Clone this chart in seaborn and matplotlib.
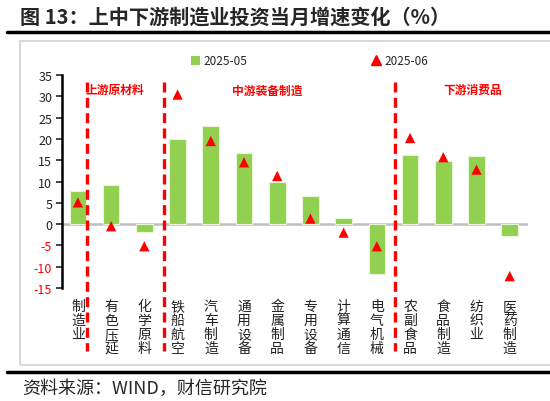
import matplotlib
matplotlib.use("Agg")
import matplotlib.pyplot as plt
import seaborn as sns
import pandas as pd
from matplotlib.lines import Line2D
from matplotlib.patches import Patch, Rectangle

categories = ["制造业", "有色压延", "化学原料", "铁船航空", "汽车制造", "通用设备", "金属制品",
              "专用设备", "计算通信", "电气机械", "农副食品", "食品制造", "纺织业", "医药制造"]
may_2025 = [7.8, 9.2, -1.9, 19.9, 23.0, 16.7, 9.9, 6.6, 1.5, -11.7, 16.3, 14.9, 15.9, -2.9]
jun_2025 = [5.1, -0.5, -5.2, 30.4, 19.5, 14.5, 11.3, 1.3, -2.0, -5.2, 20.2, 15.7, 12.8, -12.2]
section_names = ["上游原材料", "中游装备制造", "下游消费品"]

GREEN = "#92d050"
RED = "#ff0000"

sns.set_style("white")
plt.rcParams["font.family"] = ["Noto Sans CJK SC", "DejaVu Sans"]
plt.rcParams["axes.unicode_minus"] = False

df = pd.DataFrame({"cat": categories, "may": may_2025, "jun": jun_2025})

fig = plt.figure(figsize=(5.5, 4.02), dpi=100)
ax = fig.add_axes([0.1127, 0.281, 0.8473, 0.530])

sns.barplot(data=df, x="cat", y="may", color=GREEN, width=0.5, saturation=1,
            edgecolor="#e8f5d8", linewidth=0.8, ax=ax, zorder=2)
sns.scatterplot(data=df, x="cat", y="jun", marker="^", color=RED, s=55,
                edgecolor="none", ax=ax, zorder=4)

ax.set_ylim(-15, 35)
ax.set_xlim(-0.48, 13.55)
ax.set_yticks(range(-15, 40, 5))
ax.axhline(0, color="#bfbfbf", lw=1.8, zorder=1)

# section dividers and names
for xd in [0.27, 2.59, 9.54]:
    ax.plot([xd, xd], [33.3, -29.8], color=RED, lw=2.4, ls=(0, (3, 1.6)),
            clip_on=False, zorder=5)
for xs, name in zip([1.12, 5.7, 11.88], section_names):
    ax.text(xs, 31.5, name, color=RED, fontsize=8.5, fontweight="bold",
            ha="center", va="center")

ax.set_xlabel("")
ax.set_ylabel("")
ax.set_xticks(range(len(categories)))
ax.set_xticklabels(["\n".join(c) for c in categories], fontsize=10,
                   linespacing=1.0, va="top", color="#222222")
ax.tick_params(axis="x", length=0, pad=8)
ax.tick_params(axis="y", length=4, width=1.2, direction="out", labelsize=9,
               pad=3, left=True)
for lab in ax.get_yticklabels():
    lab.set_color(RED if float(lab.get_text()) < 0 else "#222222")
for s in ["top", "right", "bottom"]:
    ax.spines[s].set_visible(False)
ax.spines["left"].set_color("black")
ax.spines["left"].set_linewidth(1.8)

handles = [Patch(facecolor=GREEN, edgecolor="none"),
           Line2D([], [], marker="^", color=RED, ls="none", markersize=7)]
fig.legend(handles, ["2025-05", "2025-06"], ncol=2, loc="center",
           bbox_to_anchor=(0.563, 0.846), frameon=False, fontsize=8.5,
           handlelength=0.8, handleheight=0.8, handletextpad=0.3,
           columnspacing=10.5)

# frame, title and source
fig.patches.append(Rectangle((0.036, 0.0896), 0.97, 0.806, transform=fig.transFigure,
                             fill=False, edgecolor="#d9d9d9", lw=1.5))
fig.add_artist(Line2D([0.013, 1.0], [0.918, 0.918], color="black", lw=2.5,
                      transform=fig.transFigure))
fig.add_artist(Line2D([0.013, 1.0], [0.072, 0.072], color="black", lw=2.5,
                      transform=fig.transFigure))
fig.text(0.036, 0.958, "图 13：上中下游制造业投资当月增速变化（%）", fontsize=14.5,
         fontweight="bold", ha="left", va="center")
fig.text(0.04, 0.032, "资料来源：WIND，财信研究院", fontsize=13, style="italic",
         ha="left", va="center")

fig.savefig("out.png", dpi=100)
